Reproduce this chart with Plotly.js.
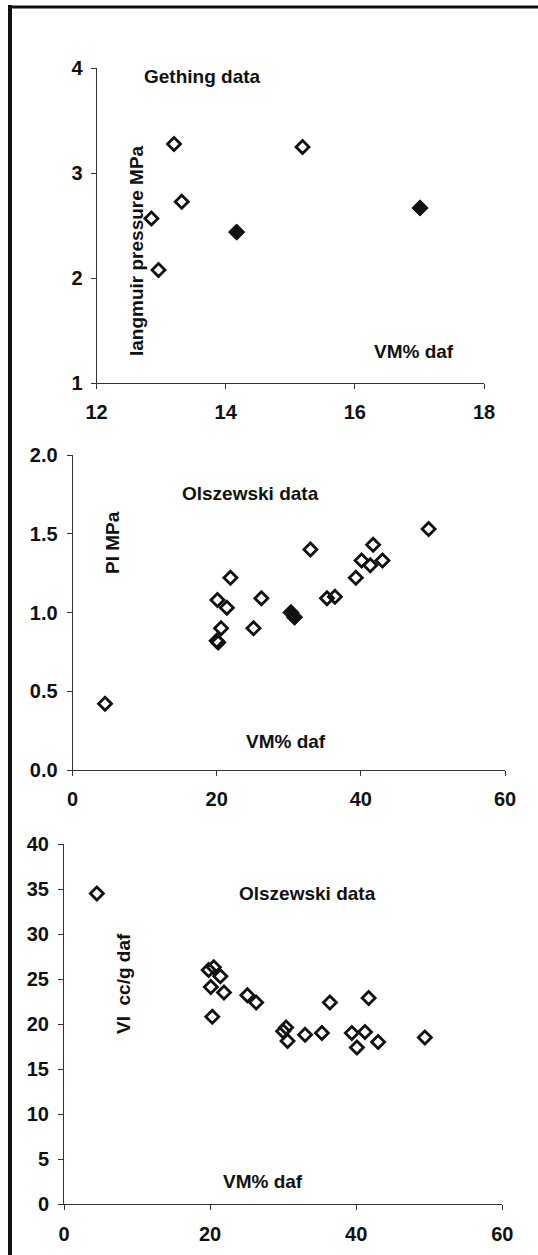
<!DOCTYPE html>
<html>
<head>
<meta charset="utf-8">
<script src="https://cdn.plot.ly/plotly-3.0.1.min.js"></script>
<style>
  html, body { margin: 0; padding: 0; background: #fff; }
  #chart { width: 538px; height: 1255px; }
</style>
</head>
<body>
<div id="chart"></div>
<script>
// ---- Panel 1: Gething data (Langmuir pressure vs VM% daf)
const gethingOpenX   = [13.20, 15.19, 13.32, 12.85, 12.96];
const gethingOpenY   = [3.28, 3.25, 2.73, 2.57, 2.08];
const gethingFilledX = [14.17, 17.01];
const gethingFilledY = [2.44, 2.67];

// ---- Panel 2: Olszewski data (Pl MPa vs VM% daf)
const plOpenX   = [4.5, 20.1, 21.4, 21.9, 20.6, 20.0, 20.2, 25.1, 26.2, 33.0, 35.3, 36.4, 39.3, 40.1, 41.3, 41.7, 43.0, 49.4];
const plOpenY   = [0.42, 1.08, 1.03, 1.22, 0.90, 0.82, 0.81, 0.90, 1.09, 1.40, 1.09, 1.10, 1.22, 1.33, 1.30, 1.43, 1.33, 1.53];
const plFilledX = [30.3, 30.8];
const plFilledY = [1.00, 0.97];

// ---- Panel 3: Olszewski data (Vl cc/g daf vs VM% daf)
const vlX = [4.5, 19.8, 20.5, 21.4, 20.1, 21.9, 20.3, 25.1, 26.3, 30.0, 30.4, 30.6, 33.0, 35.3, 36.4, 39.4, 40.1, 41.2, 41.7, 43.0, 49.4];
const vlY = [34.5, 26.0, 26.3, 25.3, 24.1, 23.5, 20.8, 23.2, 22.4, 19.2, 19.6, 18.1, 18.8, 19.0, 22.4, 19.0, 17.4, 19.1, 22.9, 18.0, 18.5];

// ---- Text
const panel1Label = 'Gething data';
const panel1YLabel = 'langmuir pressure MPa';
const panel2Label = 'Olszewski data';
const panel2YLabel = 'Pl MPa';
const panel3Label = 'Olszewski data';
const panel3YLabel = 'Vl  cc/g daf';
const xLabel = 'VM% daf';

const W = 538, H = 1255;
const px = v => v / W;
const py = v => 1 - v / H;

const ink = '#111';
const FONT = 'Liberation Sans, Arial, sans-serif';

function openTrace(x, y, xa, ya) {
  return { x, y, xaxis: xa, yaxis: ya, type: 'scatter', mode: 'markers',
    marker: { symbol: 'diamond-open', size: 10, color: ink, line: { width: 2.8, color: ink } },
    hoverinfo: 'x+y', showlegend: false, cliponaxis: false };
}
function filledTrace(x, y, xa, ya) {
  return { x, y, xaxis: xa, yaxis: ya, type: 'scatter', mode: 'markers',
    marker: { symbol: 'diamond', size: 12.5, color: ink, line: { width: 1, color: ink } },
    hoverinfo: 'x+y', showlegend: false, cliponaxis: false };
}

const data = [
  openTrace(gethingOpenX, gethingOpenY, 'x', 'y'),
  filledTrace(gethingFilledX, gethingFilledY, 'x', 'y'),
  openTrace(plOpenX, plOpenY, 'x2', 'y2'),
  filledTrace(plFilledX, plFilledY, 'x2', 'y2'),
  openTrace(vlX, vlY, 'x3', 'y3')
];

function ax(extra) {
  return Object.assign({
    showline: true, linecolor: '#333', linewidth: 1,
    ticks: 'outside', ticklen: 5, tickwidth: 1, tickcolor: '#333',
    showgrid: false, zeroline: false, fixedrange: true,
    tickfont: { family: FONT, size: 20, color: ink, weight: 'bold' }
  }, extra);
}

const ann = (text, x, y, angle) => ({
  text, xref: 'paper', yref: 'paper', x: px(x), y: py(y),
  xanchor: 'center', yanchor: 'middle', showarrow: false,
  textangle: angle || 0,
  font: { family: FONT, size: 19, color: ink, weight: 'bold' }
});

const layout = {
  width: W, height: H,
  margin: { l: 0, r: 0, t: 0, b: 0 },
  paper_bgcolor: '#fff', plot_bgcolor: 'rgba(0,0,0,0)',
  showlegend: false,
  xaxis:  ax({ domain: [px(96.5), px(484)], range: [12, 18], dtick: 2, tick0: 12, anchor: 'y',  ticklabelstandoff: 6 }),
  yaxis:  ax({ domain: [py(383.3), py(68.3)], range: [1, 4], dtick: 1, tick0: 1, anchor: 'x', ticklabelstandoff: 4 }),
  xaxis2: ax({ domain: [px(72.6), px(505)], range: [0, 60], dtick: 20, tick0: 0, anchor: 'y2', ticklabelstandoff: 6 }),
  yaxis2: ax({ domain: [py(770), py(455)], range: [0, 2], dtick: 0.5, tick0: 0, tickformat: '.1f', anchor: 'x2', ticklabelstandoff: 5 }),
  xaxis3: ax({ domain: [px(64), px(502.3)], range: [0, 60], dtick: 20, tick0: 0, anchor: 'y3', ticklabelstandoff: 7 }),
  yaxis3: ax({ domain: [py(1204), py(844)], range: [0, 40], dtick: 5, tick0: 0, anchor: 'x3', ticklabelstandoff: 5 }),
  annotations: [
    ann(panel1Label, 202, 77),
    ann(panel1YLabel, 137, 251, -90),
    ann(xLabel, 414, 351),
    ann(panel2Label, 250, 494),
    ann(panel2YLabel, 112, 543, -90),
    ann(xLabel, 286, 741),
    ann(panel3Label, 307.5, 893),
    ann(panel3YLabel, 123, 983, -90),
    ann(xLabel, 262.5, 1181)
  ],
  shapes: [
    { type: 'line', xref: 'paper', yref: 'paper', x0: px(10), x1: px(10), y0: 0, y1: py(5), line: { color: '#111', width: 4 } },
    { type: 'line', xref: 'paper', yref: 'paper', x0: px(8), x1: 1, y0: py(7), y1: py(7), line: { color: '#111', width: 3 } }
  ]
};

Plotly.newPlot('chart', data, layout, { staticPlot: true, displayModeBar: false });
</script>
</body>
</html>
